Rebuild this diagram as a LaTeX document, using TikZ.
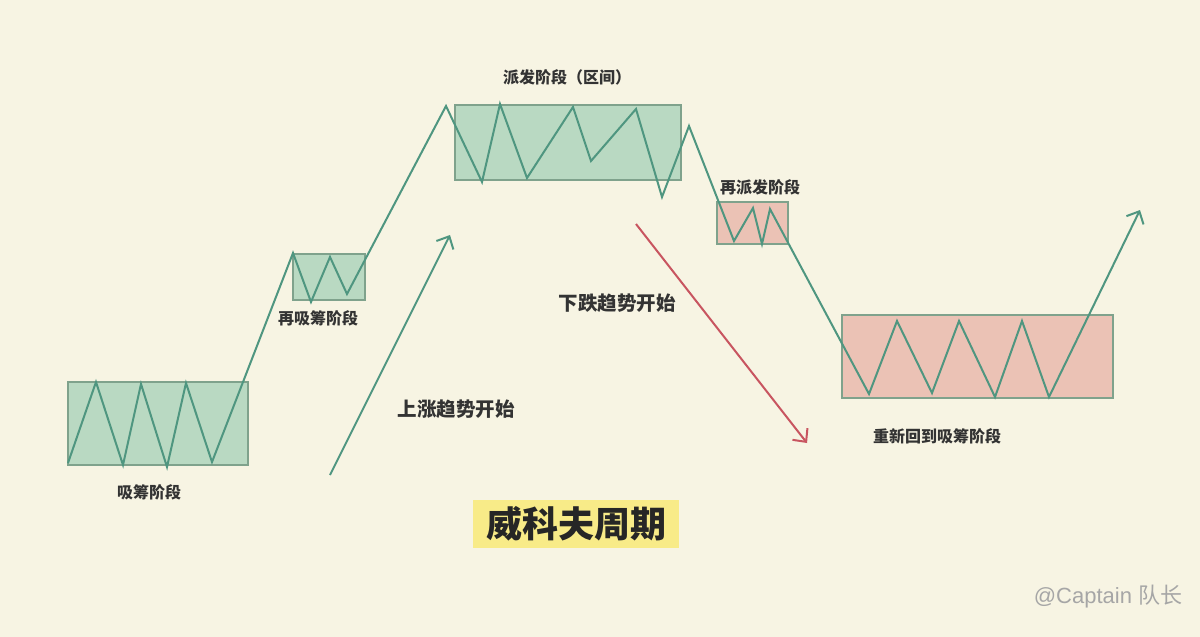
\documentclass[tikz,border=0pt]{standalone}
\usepackage{fontspec}
\setmainfont{Liberation Sans}
\newfontfamily\cjk{Noto Sans CJK SC}
\usetikzlibrary{arrows.meta}
\definecolor{bgcream}{HTML}{F7F4E3}
\definecolor{pathgreen}{HTML}{4F9680}
\definecolor{boxgreen}{HTML}{B9D9C2}
\definecolor{boxred}{HTML}{EBC2B5}
\definecolor{boxline}{HTML}{7FA28C}
\definecolor{arrowred}{HTML}{C85560}
\definecolor{titleyellow}{HTML}{F8EB88}
\definecolor{labelgray}{HTML}{333333}
\tikzset{
  rangebox/.style={draw=boxline, line width=1.2pt},
  price/.style={draw=pathgreen, line width=2.3pt, line join=miter},
  phase/.style={font=\cjk\bfseries\fontsize{16}{18}\selectfont, text=labelgray, inner sep=0pt},
  trend/.style={font=\cjk\bfseries\fontsize{19.5}{22}\selectfont, text=labelgray, inner sep=0pt},
  tip/.style={-{Straight Barb[length=10pt,width=19pt,line width=2pt]}, line width=2pt}
}
\begin{document}
\begin{tikzpicture}[x=1pt,y=-1pt]
\fill[bgcream] (0,0) rectangle (1200,637);
\useasboundingbox (0,0) rectangle (1200,637);
% trading ranges
\filldraw[rangebox, fill=boxgreen] (68,382) rectangle (248,465);
\filldraw[rangebox, fill=boxgreen] (293,254) rectangle (365,300);
\filldraw[rangebox, fill=boxgreen] (455,105) rectangle (681,180);
\filldraw[rangebox, fill=boxred] (717,202) rectangle (788,244);
\filldraw[rangebox, fill=boxred] (842,315) rectangle (1113,398);
% price path
\coordinate (end) at (1140,210);
\draw[price, tip] (68,463) -- (96,382) -- (123,465) -- (141,384) -- (167,467) -- (186,383)
  -- (212,462) -- (293,253) -- (311,302) -- (330,257) -- (347,294)
  -- (446,106) -- (482,182) -- (500,104) -- (527,178) -- (573,107) -- (591,161)
  -- (636,109) -- (662,197) -- (689,126) -- (734,241) -- (753,208) -- (762,244)
  -- (770,209) -- (869,394) -- (897,321) -- (932,393) -- (959,321) -- (995,397)
  -- (1022,321) -- (1049,397) -- (end);
% trend arrows
\coordinate (upstart) at (330,475);
\coordinate (upend) at (450,235);
\coordinate (downstart) at (636,224);
\coordinate (downend) at (807,443);
\draw[pathgreen, tip] (upstart) -- (upend);
\draw[arrowred, tip] (downstart) -- (downend);
% labels
\node[phase] (acc) at (149,492) {吸筹阶段};
\node[phase] (reacc) at (318,318) {再吸筹阶段};
\node[phase] (dist) at (567,77) {派发阶段（区间）};
\node[phase] (redist) at (760,187) {再派发阶段};
\node[phase] (backacc) at (937,436) {重新回到吸筹阶段};
\node[trend] (uptrend) at (456,409) {上涨趋势开始};
\node[trend] (downtrend) at (617,303) {下跌趋势开始};
\node[fill=titleyellow, minimum width=206pt, minimum height=48pt, inner sep=0pt,
  font=\cjk\bfseries\fontsize{36}{40}\selectfont, text=black!85] (title) at (576,524) {威科夫周期};
\node[text=black!35, font=\fontsize{22}{24}\selectfont, inner sep=0pt] (mark) at (1108,597) {@Captain {\cjk 队长}};
\end{tikzpicture}
\end{document}
